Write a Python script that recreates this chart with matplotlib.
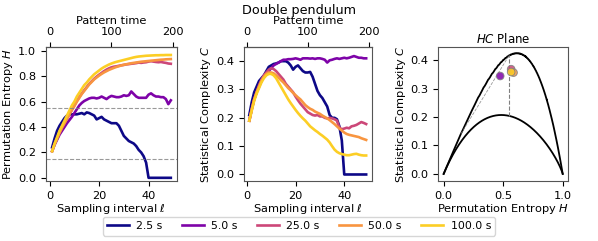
import numpy as np
import matplotlib
matplotlib.use("Agg")
import matplotlib.pyplot as plt

# ---------------- data ----------------
labels = ["2.5 s", "5.0 s", "25.0 s", "50.0 s", "100.0 s"]
ell = list(range(1, 50))

H_2p5 = [0.24, 0.31, 0.37, 0.41, 0.44, 0.47, 0.49, 0.50, 0.50, 0.50,
         0.50, 0.505, 0.51, 0.50, 0.515, 0.51, 0.50, 0.49, 0.46, 0.47,
         0.48, 0.46, 0.45, 0.44, 0.43, 0.43, 0.43, 0.41, 0.37, 0.33,
         0.31, 0.29, 0.28, 0.27, 0.25, 0.22, 0.20, 0.17, 0.12, 0.0,
         0.0, 0.0, 0.0, 0.0, 0.0, 0.0, 0.0, 0.0, 0.0]
H_5 = [0.21, 0.26, 0.30, 0.34, 0.37, 0.40, 0.43, 0.455, 0.48, 0.51,
       0.54, 0.57, 0.59, 0.605, 0.615, 0.625, 0.63, 0.63, 0.625, 0.63,
       0.64, 0.63, 0.62, 0.635, 0.645, 0.64, 0.635, 0.635, 0.64, 0.65,
       0.645, 0.65, 0.68, 0.66, 0.64, 0.63, 0.63, 0.63, 0.63, 0.655,
       0.665, 0.65, 0.64, 0.64, 0.635, 0.635, 0.62, 0.58, 0.61]
H_25 = [0.21, 0.265, 0.31, 0.355, 0.395, 0.43, 0.465, 0.50, 0.535, 0.57,
        0.605, 0.635, 0.665, 0.69, 0.715, 0.74, 0.76, 0.78, 0.797, 0.812,
        0.826, 0.84, 0.852, 0.862, 0.87, 0.875, 0.878, 0.882, 0.886, 0.889,
        0.893, 0.895, 0.898, 0.90, 0.903, 0.907, 0.905, 0.908, 0.91, 0.915,
        0.918, 0.915, 0.912, 0.91, 0.912, 0.908, 0.905, 0.90, 0.898]
H_50 = [0.21, 0.265, 0.31, 0.355, 0.395, 0.43, 0.465, 0.50, 0.535, 0.565,
        0.60, 0.63, 0.66, 0.685, 0.71, 0.735, 0.755, 0.775, 0.79, 0.805,
        0.818, 0.83, 0.84, 0.85, 0.858, 0.866, 0.873, 0.879, 0.885, 0.89,
        0.894, 0.898, 0.902, 0.905, 0.908, 0.911, 0.914, 0.916, 0.918, 0.92,
        0.922, 0.924, 0.926, 0.928, 0.93, 0.931, 0.933, 0.934, 0.935]
H_100 = [0.21, 0.27, 0.32, 0.37, 0.41, 0.45, 0.49, 0.53, 0.57, 0.60,
         0.64, 0.67, 0.70, 0.73, 0.75, 0.775, 0.795, 0.815, 0.83, 0.845,
         0.86, 0.872, 0.882, 0.892, 0.90, 0.907, 0.913, 0.918, 0.923, 0.928,
         0.933, 0.938, 0.943, 0.948, 0.952, 0.955, 0.957, 0.959, 0.961, 0.962,
         0.963, 0.964, 0.965, 0.965, 0.966, 0.966, 0.967, 0.967, 0.967]

C_2p5 = [0.21, 0.255, 0.29, 0.31, 0.33, 0.34, 0.35, 0.365, 0.38, 0.385,
         0.39, 0.392, 0.395, 0.40, 0.40, 0.40, 0.395, 0.385, 0.37, 0.38,
         0.385, 0.375, 0.365, 0.36, 0.36, 0.362, 0.345, 0.32, 0.295, 0.28,
         0.27, 0.255, 0.24, 0.21, 0.20, 0.20, 0.195, 0.17, 0.12, 0.0,
         0.0, 0.0, 0.0, 0.0, 0.0, 0.0, 0.0, 0.0, 0.0]
C_5 = [0.19, 0.23, 0.265, 0.29, 0.31, 0.33, 0.345, 0.355, 0.365, 0.375,
       0.385, 0.39, 0.395, 0.40, 0.405, 0.405, 0.407, 0.407, 0.408, 0.41,
       0.408, 0.405, 0.41, 0.41, 0.41, 0.409, 0.41, 0.408, 0.41, 0.41,
       0.408, 0.405, 0.395, 0.403, 0.405, 0.408, 0.41, 0.408, 0.41, 0.412,
       0.41, 0.412, 0.415, 0.418, 0.415, 0.412, 0.412, 0.41, 0.41]
C_25 = [0.19, 0.23, 0.265, 0.29, 0.315, 0.335, 0.35, 0.36, 0.37, 0.375,
        0.372, 0.365, 0.355, 0.345, 0.335, 0.32, 0.31, 0.30, 0.29, 0.275,
        0.262, 0.25, 0.24, 0.23, 0.22, 0.215, 0.21, 0.208, 0.21, 0.205,
        0.205, 0.20, 0.198, 0.20, 0.198, 0.195, 0.19, 0.165, 0.16, 0.162,
        0.165, 0.163, 0.17, 0.172, 0.175, 0.18, 0.185, 0.182, 0.178]
C_50 = [0.19, 0.23, 0.265, 0.29, 0.31, 0.33, 0.345, 0.355, 0.36, 0.36,
        0.357, 0.35, 0.342, 0.333, 0.325, 0.315, 0.305, 0.297, 0.288, 0.28,
        0.272, 0.265, 0.255, 0.245, 0.238, 0.232, 0.228, 0.222, 0.218, 0.214,
        0.208, 0.203, 0.198, 0.192, 0.185, 0.178, 0.17, 0.162, 0.155, 0.148,
        0.143, 0.14, 0.138, 0.136, 0.134, 0.132, 0.128, 0.125, 0.122]
C_100 = [0.19, 0.225, 0.26, 0.285, 0.305, 0.325, 0.34, 0.35, 0.355, 0.355,
         0.35, 0.34, 0.325, 0.31, 0.295, 0.28, 0.265, 0.252, 0.24, 0.228,
         0.217, 0.207, 0.198, 0.19, 0.18, 0.17, 0.163, 0.156, 0.15, 0.143,
         0.137, 0.13, 0.123, 0.113, 0.10, 0.088, 0.08, 0.075, 0.072, 0.07,
         0.068, 0.068, 0.07, 0.072, 0.073, 0.07, 0.068, 0.067, 0.067]

# HC plane points (5.0 s, 25.0 s, 50.0 s, 100.0 s)
hc_H = [0.475, 0.567, 0.587, 0.567]
hc_C = [0.344, 0.368, 0.356, 0.358]

H_thresholds = [0.55, 0.145]
n_states = 120  # 5! ordinal patterns
pattern_factor = 4

H_series = [H_2p5, H_5, H_25, H_50, H_100]
C_series = [C_2p5, C_5, C_25, C_50, C_100]
colors = [plt.cm.plasma(v) for v in [0.0, 0.25, 0.5, 0.75, 0.9]]

# ---------------- HC bounds (Jensen-Shannon complexity) ----------------
def _S(p):
    p = p[p > 0]
    return -np.sum(p * np.log(p))

def _hc(P, N):
    Pe = np.ones(N) / N
    Q0 = -2 / (((N + 1) / N) * np.log(N + 1) - 2 * np.log(2 * N) + np.log(N))
    H = _S(P) / np.log(N)
    JS = _S((P + Pe) / 2) - _S(P) / 2 - _S(Pe) / 2
    return H, Q0 * JS * H

def bounds(N):
    mn = []
    for p in np.linspace(1 / N, 1, 400):
        P = np.r_[p, np.ones(N - 1) * (1 - p) / (N - 1)]
        mn.append(_hc(P, N))
    mx = []
    for n in range(N - 1):
        for p in np.linspace(0, 1 / (N - n), 30):
            P = np.r_[p, np.ones(N - n - 1) * (1 - p) / (N - n - 1), np.zeros(n)]
            mx.append(_hc(P, N))
    mn = np.array(sorted(mn))
    mx = np.array(sorted(mx))
    return mn, mx

cmin, cmax = bounds(n_states)

# ---------------- figure ----------------
fs = 8.2
plt.rcParams.update({"font.size": fs, "axes.labelsize": fs,
                     "xtick.labelsize": fs, "ytick.labelsize": fs})
fig = plt.figure(figsize=(5.98, 2.41), dpi=100)
ax1 = fig.add_axes([45.7/598, 1-181/241, 131.3/598, 134/241])
ax2 = fig.add_axes([243.7/598, 1-181/241, 128.3/598, 134/241])
ax3 = fig.add_axes([438.3/598, 1-181/241, 130/598, 134/241])

lw = 1.9
for Hs, col, lab in zip(H_series, colors, labels):
    ax1.plot(ell, Hs, color=col, lw=lw, label=lab)
for h in H_thresholds:
    ax1.axhline(h, color="gray", ls="--", lw=0.8, alpha=0.8)
ax1.set_xlim(-1.6, 51.5)
ax1.set_ylim(-0.025, 1.03)
ax1.set_yticks([0.0, 0.2, 0.4, 0.6, 0.8, 1.0])
ax1.set_xticks([0, 20, 40])
ax1.set_xlabel(r"Sampling interval $\ell$", labelpad=1)
ax1.set_ylabel(r"Permutation Entropy $H$", labelpad=2)

for Cs, col in zip(C_series, colors):
    ax2.plot(ell, Cs, color=col, lw=lw)
ax2.set_xlim(-1.3, 51.4)
ax2.set_ylim(-0.023, 0.45)
ax2.set_yticks([0.0, 0.1, 0.2, 0.3, 0.4])
ax2.set_xticks([0, 20, 40])
ax2.set_xlabel(r"Sampling interval $\ell$", labelpad=1)
ax2.set_ylabel(r"Statistical Complexity $C$", labelpad=2)

for ax in (ax1, ax2):
    sec = ax.secondary_xaxis("top", functions=(lambda x: x * pattern_factor,
                                               lambda x: x / pattern_factor))
    sec.set_xticks([0, 100, 200])
    sec.set_xlabel("Pattern time", labelpad=2)

ax3.plot(cmin[:, 0], cmin[:, 1], color="black", lw=1.3)
ax3.plot(cmax[:, 0], cmax[:, 1], color="black", lw=1.3)
h0 = H_thresholds[0]
cmin_h0 = np.interp(h0, cmin[:, 0], cmin[:, 1])
cmax_h0 = np.interp(h0, cmax[:, 0], cmax[:, 1])
ax3.plot([h0, h0], [cmin_h0, cmax_h0], color="gray", ls="--", lw=0.8)
h1 = H_thresholds[1]
cmax_h1 = np.interp(h1, cmax[:, 0], cmax[:, 1])
ax3.plot([h1, h0], [cmax_h1, cmax_h0], color="gray", ls="--", lw=0.6, alpha=0.8)
ax3.scatter(hc_H, hc_C, s=30, c=colors[1:], edgecolors="gray",
            linewidths=0.7, alpha=0.85, zorder=3)
ax3.set_xlim(-0.045, 1.047)
ax3.set_ylim(-0.025, 0.446)
ax3.set_xticks([0.0, 0.5, 1.0])
ax3.set_yticks([0.0, 0.1, 0.2, 0.3, 0.4])
ax3.set_xlabel(r"Permutation Entropy $H$", labelpad=1)
ax3.set_ylabel(r"Statistical Complexity $C$", labelpad=2)
ax3.set_title(r"$HC$ Plane", fontsize=fs + 0.3, pad=3)

for ax in (ax1, ax2, ax3):
    for s in ax.spines.values():
        s.set_color("#555555")

fig.suptitle("Double pendulum", fontsize=9.2, y=0.985)
handles, labs = ax1.get_legend_handles_labels()
fig.legend(handles, labs, loc="lower center", bbox_to_anchor=(0.5, 0.0),
           ncol=5, fontsize=7.8, handlelength=2.0, handletextpad=0.7,
           columnspacing=1.8, frameon=True)

fig.savefig("out.png", dpi=100)
